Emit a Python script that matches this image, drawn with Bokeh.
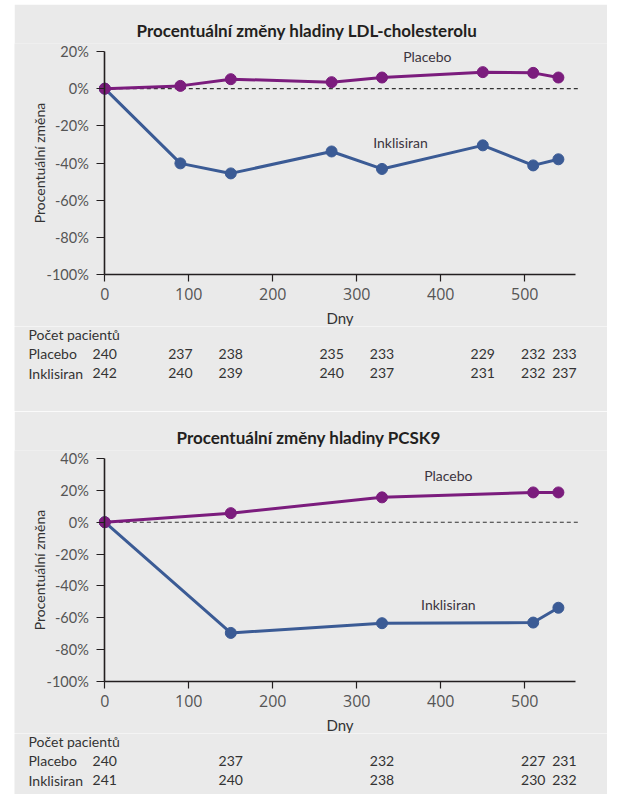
from bokeh.plotting import figure
from bokeh.layouts import column
from bokeh.models import Range1d, FixedTicker, PrintfTickFormatter
from bokeh.core.properties import value
from bokeh.embed import file_html
from bokeh.resources import INLINE

# ---------------- data ----------------
ldl_days = [0, 90, 150, 270, 330, 450, 510, 540]
ldl_placebo = [0.0, 1.5, 5.1, 3.5, 6.0, 8.9, 8.5, 6.0]
ldl_inclisiran = [0.0, -40.2, -45.6, -33.8, -43.2, -30.5, -41.3, -38.0]
ldl_n_placebo = [240, 237, 238, 235, 233, 229, 232, 233]
ldl_n_inclisiran = [242, 240, 239, 240, 237, 231, 232, 237]

pcsk9_days = [0, 150, 330, 510, 540]
pcsk9_placebo = [0.0, 5.7, 15.6, 18.7, 18.7]
pcsk9_inclisiran = [0.0, -69.5, -63.4, -63.0, -53.7]
pcsk9_n_placebo = [240, 237, 232, 227, 231]
pcsk9_n_inclisiran = [241, 240, 238, 230, 232]

x_ticks = [0, 100, 200, 300, 400, 500]
ldl_y_ticks = [-100, -80, -60, -40, -20, 0, 20]
pcsk9_y_ticks = [-100, -80, -60, -40, -20, 0, 20, 40]

row_labels = ["Počet pacientů", "Placebo", "Inklisiran"]

# ---------------- style ----------------
GRAY = "#eaeaea"
PURPLE = "#7b1c7d"
BLUE = "#3b5b95"
AXIS = "#231f20"
TXT = "#333333"
TICKTXT = "#555555"
NARROW = "Lato"
WIDE = "Open Sans"

W = 593                      # panel width; frame spans it fully
PX = 0.84                    # pixels per day
ORIGIN = 90.3                # pixel position of day 0 inside the panel
X0 = -ORIGIN / PX
X1 = X0 + W / PX
AX0, AX1 = 0, 560            # drawn x-axis extent (days)
DASH_END = 566
MT, MB = 47, 52              # space above / below the plotted value range
PAD_T = 8                    # frame room above the top tick (for its label)
FRAME_H = 223
CH = MT + FRAME_H + MB
ROW = 19.3


def chart(title, days, plac, incl, y_lo, y_hi, y_ticks, plac_lab, incl_lab, title_offset):
    s = FRAME_H / (y_hi - y_lo)
    p = figure(width=W, height=CH, x_range=Range1d(X0, X1),
               y_range=Range1d(y_lo - MB / s, y_hi + PAD_T / s),
               output_backend="svg", toolbar_location=None,
               min_border_left=0, min_border_right=0, min_border_top=MT - PAD_T,
               min_border_bottom=0,
               background_fill_color=GRAY, border_fill_color=GRAY, outline_line_color=None)
    p.grid.visible = False
    p.title.text = title
    p.title.text_font = NARROW
    p.title.text_font_size = "17px"
    p.title.text_font_style = "bold"
    p.title.text_color = AXIS
    p.title.align = "left"
    p.title.offset = title_offset
    p.title.standoff = 6

    # axes drawn at day 0 / bottom of value range
    p.yaxis.fixed_location = 0
    p.xaxis.fixed_location = y_lo
    p.yaxis.bounds = (y_lo, y_hi)
    p.xaxis.bounds = (AX0, AX1)
    p.xaxis.ticker = FixedTicker(ticks=x_ticks)
    p.yaxis.ticker = FixedTicker(ticks=y_ticks)
    p.yaxis.formatter = PrintfTickFormatter(format="%d%%")
    for ax in (p.xaxis[0], p.yaxis[0]):
        ax.axis_line_color = AXIS
        ax.axis_line_width = 1.6
        ax.major_tick_line_color = AXIS
        ax.major_tick_line_width = 1.2
        ax.major_tick_in = 0
        ax.minor_tick_line_color = None
        ax.major_label_text_color = TICKTXT
        ax.axis_label_text_color = TXT
        ax.axis_label_text_font_style = "normal"
    p.yaxis.major_tick_out = 8
    p.xaxis.major_tick_out = 7
    p.yaxis.major_label_text_font = NARROW
    p.yaxis.major_label_text_font_size = "14.5px"
    p.yaxis.major_label_standoff = 8
    p.xaxis.major_label_text_font = WIDE
    p.xaxis.major_label_text_font_size = "16px"
    p.xaxis.major_label_standoff = 6
    p.yaxis.axis_label = "Procentuální změna"
    p.yaxis.axis_label_text_font = NARROW
    p.yaxis.axis_label_text_font_size = "14px"
    p.yaxis.axis_label_standoff = -5
    p.xaxis.axis_label = "Dny"
    p.xaxis.axis_label_text_font = NARROW
    p.xaxis.axis_label_text_font_size = "15px"
    p.xaxis.axis_label_standoff = 6

    # zero reference
    p.segment(x0=[AX0], y0=[0], x1=[DASH_END], y1=[0], line_color="#333333",
              line_width=1.1, line_dash="4 3")

    p.line(days, incl, line_color=BLUE, line_width=3)
    p.scatter(days, incl, size=11, fill_color=BLUE, line_color=BLUE)
    p.line(days, plac, line_color=PURPLE, line_width=3)
    p.scatter(days, plac, size=11, fill_color=PURPLE, line_color=PURPLE)

    p.text(x=[plac_lab[0], incl_lab[0]], y=[plac_lab[1], incl_lab[1]],
           text=["Placebo", "Inklisiran"], text_align="center", text_baseline="middle",
           text_font=value(NARROW), text_font_size="14px", text_color="#3c3540")
    return p


def table(days, n_pl, n_in, height, top_pad):
    span = height / ROW
    y_end = top_pad / ROW
    t = figure(width=W, height=height,
               x_range=Range1d(X0, X1), y_range=Range1d(y_end - span, y_end),
               x_axis_location=None, y_axis_location=None, title=None,
               output_backend="svg", toolbar_location=None, min_border=0,
               background_fill_color=GRAY, border_fill_color=GRAY, outline_line_color=None)
    t.grid.visible = False
    t.text(x=[X0] * 3, y=[0, -1, -2], text=row_labels, x_offset=14,
           text_align="left", text_baseline="middle",
           text_font=value(NARROW), text_font_size="14px", text_color=TXT)
    # the last column is nudged right so it does not touch its neighbour
    nudge = [6 if i == len(days) - 1 else 0 for i in range(len(days))]
    for row, counts in ((-1, n_pl), (-2, n_in)):
        t.text(x=days, y=[row] * len(days), text=[str(v) for v in counts], x_offset=nudge,
               text_align="center", text_baseline="middle",
               text_font=value(NARROW), text_font_size="14px", text_color=TXT)
    return t


c1 = chart("Procentuální změny hladiny LDL-cholesterolu", ldl_days, ldl_placebo, ldl_inclisiran,
           -100, 20, ldl_y_ticks, (384, 17.3), (352, -28.7), 122)
t1 = table(ldl_days, ldl_n_placebo, ldl_n_inclisiran, 85, 8)
c2 = chart("Procentuální změny hladiny PCSK9", pcsk9_days, pcsk9_placebo, pcsk9_inclisiran,
           -100, 40, pcsk9_y_ticks, (409, 29.6), (409, -51.8), 162)
t2 = table(pcsk9_days, pcsk9_n_placebo, pcsk9_n_inclisiran, 61, 8)

layout = column(c1, t1, c2, t2, spacing=0, margin=(4, 0, 0, 14))

open("out.html", "w").write(file_html(layout, INLINE))
